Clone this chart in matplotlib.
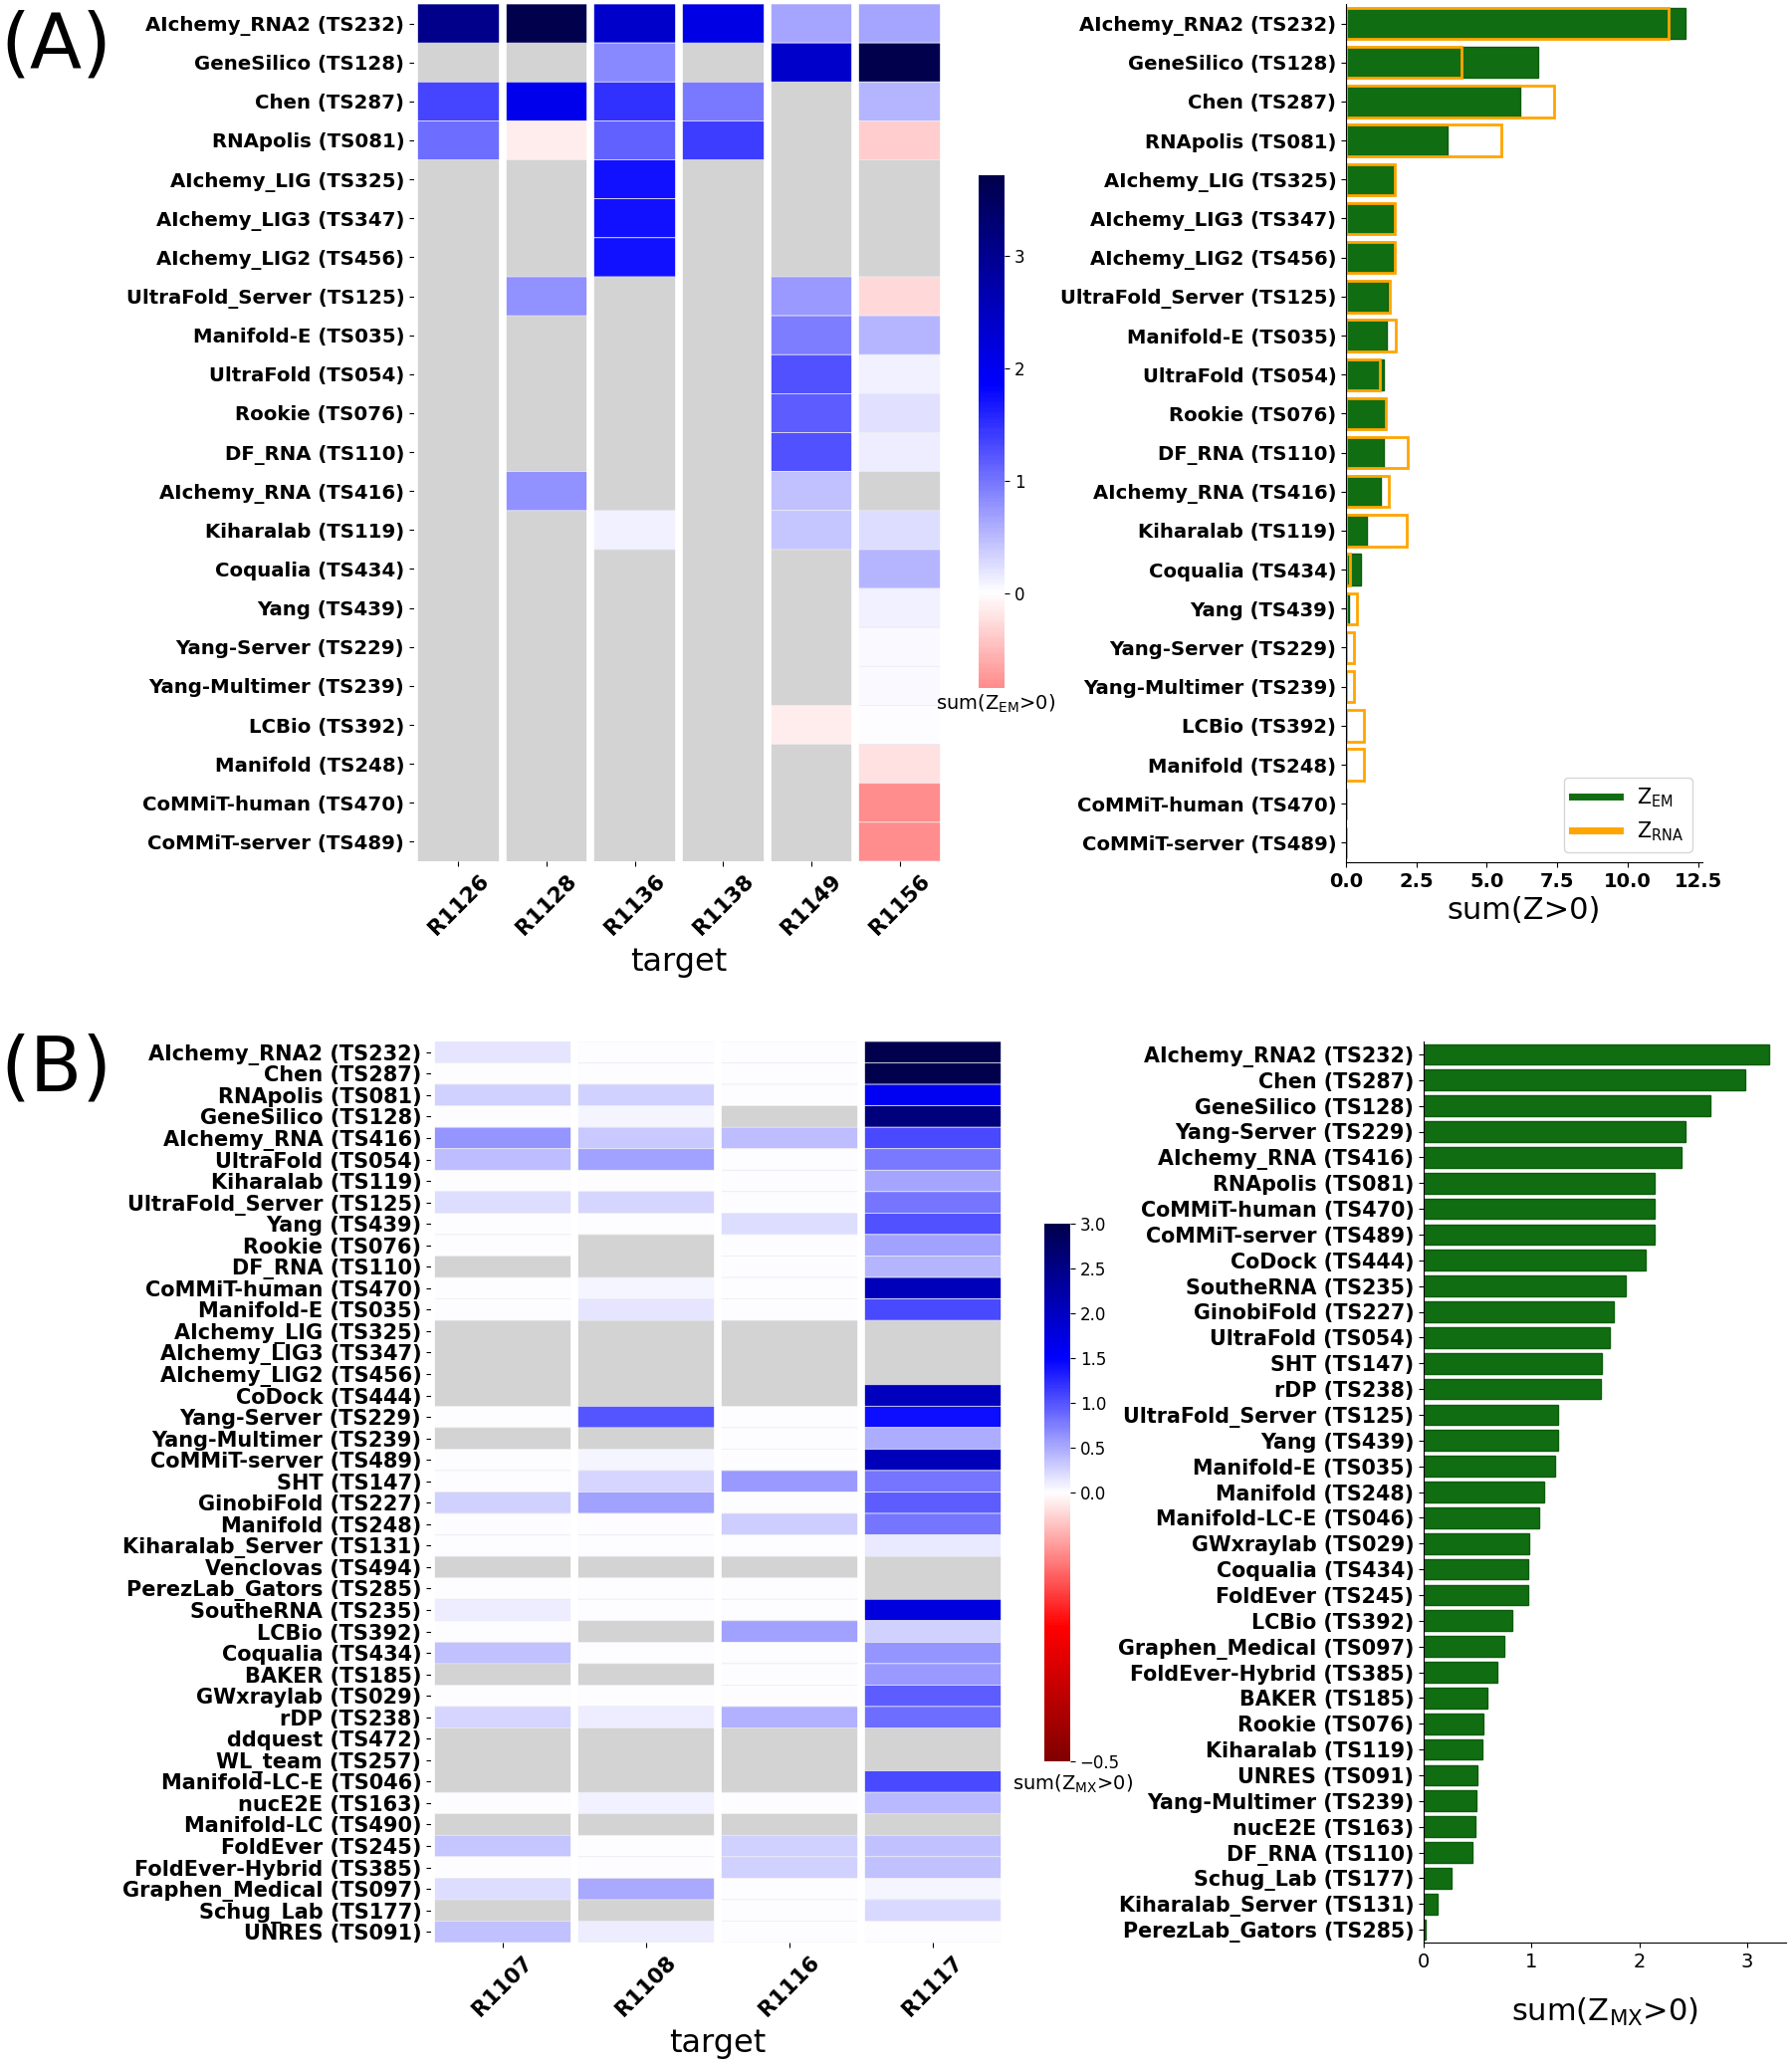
import numpy as np
import matplotlib
matplotlib.use("Agg")
import matplotlib.pyplot as plt
from matplotlib.colors import ListedColormap, Normalize, TwoSlopeNorm
from matplotlib.lines import Line2D

nan = np.nan

# ---------------- panel A data ----------------
groups_a = ["AIchemy_RNA2 (TS232)", "GeneSilico (TS128)", "Chen (TS287)", "RNApolis (TS081)",
            "AIchemy_LIG (TS325)", "AIchemy_LIG3 (TS347)", "AIchemy_LIG2 (TS456)",
            "UltraFold_Server (TS125)", "Manifold-E (TS035)", "UltraFold (TS054)",
            "Rookie (TS076)", "DF_RNA (TS110)", "AIchemy_RNA (TS416)", "Kiharalab (TS119)",
            "Coqualia (TS434)", "Yang (TS439)", "Yang-Server (TS229)", "Yang-Multimer (TS239)",
            "LCBio (TS392)", "Manifold (TS248)", "CoMMiT-human (TS470)", "CoMMiT-server (TS489)"]
targets_a = ["R1126", "R1128", "R1136", "R1138", "R1149", "R1156"]
z_em = np.array([
    [3.05, 3.72, 2.40, 2.12, 0.65, 0.67],
    [nan, nan, 0.86, nan, 2.40, 3.70],
    [1.36, 2.05, 1.49, 0.97, nan, 0.54],
    [1.08, -0.11, 1.15, 1.41, nan, -0.37],
    [nan, nan, 1.73, nan, nan, nan],
    [nan, nan, 1.73, nan, nan, nan],
    [nan, nan, 1.73, nan, nan, nan],
    [nan, 0.80, nan, nan, 0.73, -0.28],
    [nan, nan, nan, nan, 0.95, 0.54],
    [nan, nan, nan, nan, 1.26, 0.11],
    [nan, nan, nan, nan, 1.17, 0.22],
    [nan, nan, nan, nan, 1.26, 0.13],
    [nan, 0.80, nan, nan, 0.45, nan],
    [nan, nan, 0.11, nan, 0.41, 0.24],
    [nan, nan, nan, nan, nan, 0.54],
    [nan, nan, nan, nan, nan, 0.11],
    [nan, nan, nan, nan, nan, 0.05],
    [nan, nan, nan, nan, nan, 0.05],
    [nan, nan, nan, nan, -0.13, 0.01],
    [nan, nan, nan, nan, nan, -0.22],
    [nan, nan, nan, nan, nan, -0.84],
    [nan, nan, nan, nan, nan, -0.84],
])
em_sum = [12.05, 6.82, 6.20, 3.60, 1.70, 1.70, 1.70, 1.47, 1.44, 1.36, 1.38, 1.36, 1.24,
          0.73, 0.52, 0.09, 0, 0, 0, 0, 0, 0]
rna_sum = [11.44, 4.10, 7.40, 5.50, 1.72, 1.72, 1.72, 1.56, 1.75, 1.21, 1.43, 2.18, 1.51,
           2.17, 0.15, 0.38, 0.27, 0.27, 0.63, 0.63, 0, 0]

# ---------------- panel B data ----------------
groups_b = ["AIchemy_RNA2 (TS232)", "Chen (TS287)", "RNApolis (TS081)", "GeneSilico (TS128)",
            "AIchemy_RNA (TS416)", "UltraFold (TS054)", "Kiharalab (TS119)",
            "UltraFold_Server (TS125)", "Yang (TS439)", "Rookie (TS076)", "DF_RNA (TS110)",
            "CoMMiT-human (TS470)", "Manifold-E (TS035)", "AIchemy_LIG (TS325)",
            "AIchemy_LIG3 (TS347)", "AIchemy_LIG2 (TS456)", "CoDock (TS444)",
            "Yang-Server (TS229)", "Yang-Multimer (TS239)", "CoMMiT-server (TS489)",
            "SHT (TS147)", "GinobiFold (TS227)", "Manifold (TS248)", "Kiharalab_Server (TS131)",
            "Venclovas (TS494)", "PerezLab_Gators (TS285)", "SoutheRNA (TS235)", "LCBio (TS392)",
            "Coqualia (TS434)", "BAKER (TS185)", "GWxraylab (TS029)", "rDP (TS238)",
            "ddquest (TS472)", "WL_team (TS257)", "Manifold-LC-E (TS046)", "nucE2E (TS163)",
            "Manifold-LC (TS490)", "FoldEver (TS245)", "FoldEver-Hybrid (TS385)",
            "Graphen_Medical (TS097)", "Schug_Lab (TS177)", "UNRES (TS091)"]
targets_b = ["R1107", "R1108", "R1116", "R1117"]
z_mx = np.array([
    [0.15, 0.02, 0.02, 3.00],
    [0.00, 0.00, 0.00, 2.98],
    [0.27, 0.27, 0.00, 1.60],
    [0.00, 0.07, nan, 2.60],
    [0.62, 0.32, 0.38, 1.07],
    [0.39, 0.55, 0.00, 0.79],
    [0.00, 0.00, 0.01, 0.53],
    [0.20, 0.24, 0.00, 0.82],
    [0.01, 0.02, 0.20, 1.02],
    [0.00, nan, 0.00, 0.55],
    [nan, nan, 0.02, 0.43],
    [0.00, 0.07, 0.00, 2.07],
    [0.00, 0.15, 0.00, 1.07],
    [nan, nan, nan, nan],
    [nan, nan, nan, nan],
    [nan, nan, nan, nan],
    [nan, nan, nan, 2.06],
    [0.01, 1.00, 0.00, 1.42],
    [nan, nan, 0.00, 0.49],
    [0.00, 0.07, 0.00, 2.07],
    [0.00, 0.25, 0.60, 0.80],
    [0.26, 0.55, 0.00, 0.95],
    [0.02, 0.00, 0.30, 0.80],
    [0.00, 0.00, 0.00, 0.13],
    [nan, nan, nan, nan],
    [0.00, 0.02, 0.00, nan],
    [0.10, 0.00, 0.00, 1.77],
    [0.00, nan, 0.55, 0.27],
    [0.36, 0.00, 0.00, 0.61],
    [nan, nan, 0.00, 0.59],
    [0.00, 0.02, 0.00, 0.96],
    [0.24, 0.10, 0.45, 0.85],
    [nan, nan, nan, nan],
    [nan, nan, nan, nan],
    [nan, nan, nan, 1.07],
    [0.00, 0.08, 0.00, 0.40],
    [nan, nan, nan, nan],
    [0.33, 0.00, 0.27, 0.37],
    [0.00, 0.02, 0.27, 0.37],
    [0.20, 0.50, 0.00, 0.05],
    [nan, nan, 0.02, 0.22],
    [0.36, 0.10, 0.01, 0.01],
])
bar_groups_b = ["AIchemy_RNA2 (TS232)", "Chen (TS287)", "GeneSilico (TS128)", "Yang-Server (TS229)",
                "AIchemy_RNA (TS416)", "RNApolis (TS081)", "CoMMiT-human (TS470)",
                "CoMMiT-server (TS489)", "CoDock (TS444)", "SoutheRNA (TS235)",
                "GinobiFold (TS227)", "UltraFold (TS054)", "SHT (TS147)", "rDP (TS238)",
                "UltraFold_Server (TS125)", "Yang (TS439)", "Manifold-E (TS035)",
                "Manifold (TS248)", "Manifold-LC-E (TS046)", "GWxraylab (TS029)",
                "Coqualia (TS434)", "FoldEver (TS245)", "LCBio (TS392)",
                "Graphen_Medical (TS097)", "FoldEver-Hybrid (TS385)", "BAKER (TS185)",
                "Rookie (TS076)", "Kiharalab (TS119)", "UNRES (TS091)", "Yang-Multimer (TS239)",
                "nucE2E (TS163)", "DF_RNA (TS110)", "Schug_Lab (TS177)",
                "Kiharalab_Server (TS131)", "PerezLab_Gators (TS285)"]
mx_sum = [3.20, 2.98, 2.66, 2.43, 2.39, 2.14, 2.14, 2.14, 2.06, 1.87, 1.76, 1.73, 1.65, 1.64,
          1.25, 1.25, 1.22, 1.12, 1.07, 0.98, 0.97, 0.97, 0.82, 0.75, 0.68, 0.59, 0.55, 0.54,
          0.50, 0.49, 0.48, 0.45, 0.26, 0.13, 0.02]

GREEN = "#116d11"
W, H = 1800, 2077


def box(left, top, right, bottom):
    # pixel box -> figure fraction
    return [left / W, 1 - bottom / H, (right - left) / W, (bottom - top) / H]


def heat(ax, data, rows, cols, cmap, norm, fs):
    m = np.ma.masked_invalid(data)
    mesh = ax.pcolor(np.arange(len(cols) + 1), np.arange(len(rows) + 1), m,
                     cmap=cmap, norm=norm, edgecolors=(0.93, 0.93, 0.96), linewidth=0.5)
    ax.set_facecolor("lightgray")
    ax.set_xlim(0, len(cols))
    ax.set_ylim(len(rows), 0)
    for x in range(len(cols) + 1):
        ax.axvline(x, color="white", lw=5.5)
    ax.set_yticks(np.arange(len(rows)) + 0.5)
    ax.set_yticklabels(rows, fontsize=fs, fontweight="bold")
    ax.set_xticks(np.arange(len(cols)) + 0.5)
    ax.set_xticklabels(cols, rotation=45, fontsize=15.5, fontweight="bold")
    ax.set_xlabel("target", fontsize=23, labelpad=6)
    for s in ax.spines.values():
        s.set_visible(False)
    return mesh


fig = plt.figure(figsize=(W / 100, H / 100), dpi=100)

# ---- (A) heatmap, seaborn-like centred colormap ----
vmin, vmax = np.nanmin(z_em), np.nanmax(z_em)
vr = max(vmax, -vmin)
base = plt.get_cmap("seismic_r")
cmap_a = ListedColormap(base(np.linspace(0.5 + vmin / (2 * vr), 0.5 + vmax / (2 * vr), 256)))
ax1 = fig.add_axes(box(416, 4, 948, 865))
mesh_a = heat(ax1, z_em, groups_a, targets_a, cmap_a, Normalize(vmin, vmax), 14.2)

cax1 = fig.add_axes(box(983, 176, 1009, 691))
cb1 = fig.colorbar(mesh_a, cax=cax1)
cb1.set_ticks([0, 1, 2, 3])
cb1.ax.tick_params(labelsize=12)
cb1.outline.set_visible(False)
fig.text(1000 / W, 1 - 707 / H, r"sum(Z$_{\mathregular{EM}}$>0)", ha="center", va="center", fontsize=14)

# ---- (A) bars ----
ax2 = fig.add_axes(box(1352, 4, 1710, 866))
ya = np.arange(len(groups_a))
ax2.barh(ya, em_sum, height=0.8, color=GREEN, edgecolor="#0c5c0c", lw=1)
ax2.barh(ya, rna_sum, height=0.8, fill=False, edgecolor="orange", lw=2)
ax2.set_ylim(len(groups_a) - 0.5, -0.5)
ax2.set_yticks(ya)
ax2.set_yticklabels(groups_a, fontsize=14.1, fontweight="bold")
ax2.set_xticks(np.arange(0, 12.6, 2.5))
ax2.set_xticklabels([f"{v:.1f}" for v in np.arange(0, 12.6, 2.5)], fontsize=14, fontweight="bold")
ax2.set_xlabel("sum(Z>0)", fontsize=22)
ax2.spines["top"].set_visible(False)
ax2.spines["right"].set_visible(False)
handles = [Line2D([0], [0], color=GREEN, lw=5), Line2D([0], [0], color="orange", lw=5)]
ax2.legend(handles, [r"Z$_{\mathregular{EM}}$", r"Z$_{\mathregular{RNA}}$"], loc="lower right",
           fontsize=15, handlelength=2.3)

# ---- (B) heatmap ----
ax3 = fig.add_axes(box(433, 1046, 1009, 1951))
mesh_b = heat(ax3, z_mx, groups_b, targets_b, plt.get_cmap("seismic_r"),
              TwoSlopeNorm(vmin=-0.5, vcenter=0, vmax=3.0), 15)

cax2 = fig.add_axes(box(1049, 1229, 1075, 1769))
cb2 = fig.colorbar(mesh_b, cax=cax2)
cb2.set_ticks(np.arange(-0.5, 3.01, 0.5))
cb2.ax.tick_params(labelsize=12)
cb2.outline.set_visible(False)
fig.text(1078 / W, 1 - 1792 / H, r"sum(Z$_{\mathregular{MX}}$>0)", ha="center", va="center", fontsize=14)

# ---- (B) bars ----
ax4 = fig.add_axes(box(1430, 1046, 1794, 1951))
yb = np.arange(len(bar_groups_b))
ax4.barh(yb, mx_sum, height=0.8, color=GREEN, edgecolor="#0c5c0c", lw=1)
ax4.set_ylim(len(bar_groups_b) - 0.5, -0.5)
ax4.set_yticks(yb)
ax4.set_yticklabels(bar_groups_b, fontsize=14.9, fontweight="bold")
ax4.set_xticks([0, 1, 2, 3])
ax4.tick_params(axis="x", labelsize=14)
ax4.set_xlabel(r"sum(Z$_{\mathregular{MX}}$>0)", fontsize=22, labelpad=18)
ax4.spines["top"].set_visible(False)
ax4.spines["right"].set_visible(False)

fig.text(0.0, 1 - 46 / H, "(A)", fontsize=55, ha="left", va="center")
fig.text(0.0, 1 - 1075 / H, "(B)", fontsize=55, ha="left", va="center")

fig.savefig("out.png", dpi=100)
